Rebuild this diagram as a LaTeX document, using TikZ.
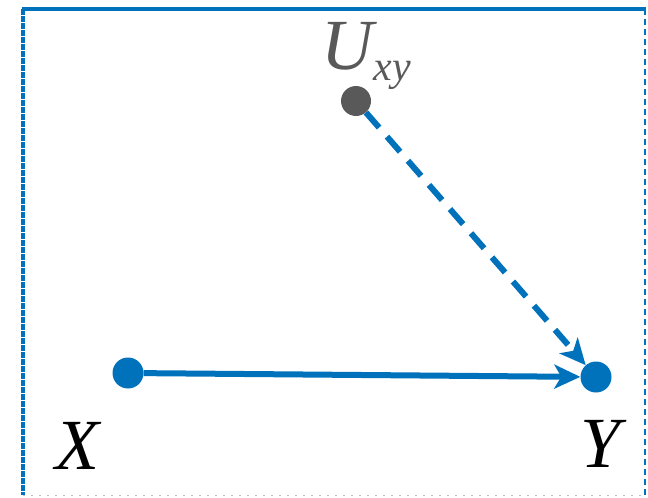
\documentclass[tikz,border=0pt]{standalone}
\usepackage{fontspec}
\setmainfont{Liberation Serif}
\usetikzlibrary{arrows.meta}
\definecolor{cblue}{RGB}{0,114,188}
\definecolor{cgray}{RGB}{89,89,89}
\tikzset{
  dotnode/.style={circle,fill=cblue,inner sep=0pt,minimum size=31pt},
  graydot/.style={circle,fill=cgray,inner sep=0pt,minimum size=30pt},
  lbl/.style={anchor=base,inner sep=0pt,font=\fontsize{72}{72}\selectfont\itshape},
  conn/.style={draw=cblue,line width=6pt,-{Stealth[length=26pt,width=24pt,inset=7pt]}},
}
\begin{document}
\begin{tikzpicture}[x=1pt,y=-1pt]
\useasboundingbox (0,0) rectangle (648,498);
% frame
\draw[cblue,line width=4pt] (22,9) -- (646,9);
\draw[cblue,line width=4pt,dash pattern=on 6pt off 1pt] (23,9) -- (23,495);
\draw[cblue,line width=1.5pt,dash pattern=on 6pt off 4pt] (645,9) -- (645,495);
\draw[gray!50,line width=1pt,dash pattern=on 2pt off 6pt] (23,495) -- (646,495);
% nodes
\node[dotnode] (X) at (128,373) {};
\node[dotnode] (Y) at (596,377) {};
\node[graydot] (U) at (356,101) {};
% labels
\node[lbl] (Xl) at (77,469) {X};
\node[lbl] (Yl) at (601,467) {Y};
\node[lbl,text=cgray] (Ul) at (366,69) {U\raisebox{-11pt}{\fontsize{42}{42}\selectfont xy}};
% connectors
\draw[conn] (X) -- (Y);
\draw[conn,dash pattern=on 20pt off 12pt] (U) -- (Y);
\end{tikzpicture}
\end{document}
